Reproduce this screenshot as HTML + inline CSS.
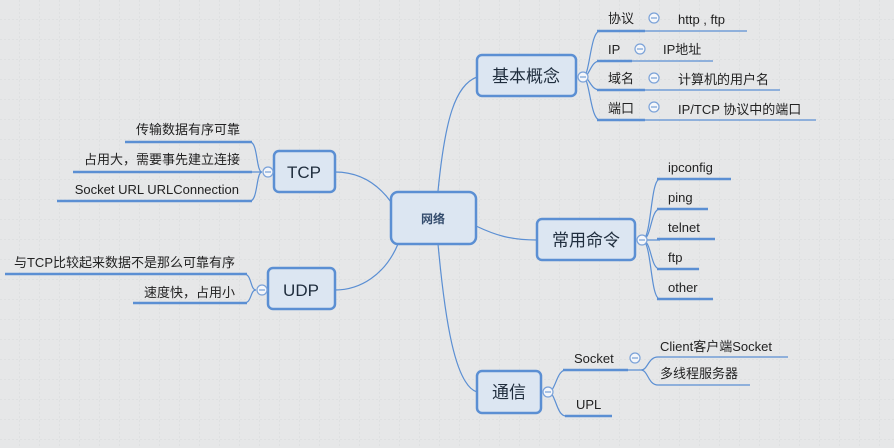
<!DOCTYPE html>
<html><head><meta charset="utf-8"><style>
html,body{margin:0;padding:0;background:#e6e7e8;}
svg{display:block;}
text{font-family:"Liberation Sans","Noto Sans CJK SC",sans-serif;fill:#222;}
</style></head><body>
<svg width="894" height="448" viewBox="0 0 894 448" xmlns="http://www.w3.org/2000/svg">
<defs>
<pattern id="g" width="20" height="20" patternUnits="userSpaceOnUse">
<path d="M20 0V20M0 20H20" stroke="#d6d8da" stroke-width="1" fill="none" stroke-dasharray="2,2"/>
</pattern>
</defs>
<rect width="894" height="448" fill="#e6e7e8"/>
<rect width="894" height="448" fill="url(#g)"/>
<g fill="none" stroke="#5b8fd3" stroke-width="1.2">
<!-- center connections -->
<path d="M438 191 C445 120 455 85 477 77"/>
<path d="M438 244 C445 320 455 385 477 392"/>
<path d="M476 226 C495 235 510 240 537 240"/>
<path d="M391 202 C375 180 355 172 335 172"/>
<path d="M398 244 C385 275 360 290 335 290"/>
<!-- 基本概念 brackets -->
<path d="M583 77 C590 77 590 31 600 31 M583 77 C590 77 590 61 600 61 M583 77 C590 77 590 90 600 90 M583 77 C590 77 590 120 600 120"/>
<path d="M645 31H747 M632 61H713 M645 90H780 M645 120H816"/>
<!-- 常用命令 -->
<path d="M642 240 C652 240 650 179 660 179 M642 240 C652 240 650 209 660 209 M642 240H660 M642 240 C652 240 650 269 660 269 M642 240 C652 240 650 299 660 299"/>
<!-- 通信 -->
<path d="M548 392 C556 392 556 370 566 370 M548 392 C556 392 556 416 566 416"/>
<path d="M628 370H641 C648 370 648 357 658 357H788 M641 370 C648 370 648 385 658 385H750"/>
<!-- TCP -->
<path d="M262 172 C256 172 258 142 250 142 M262 172H250 M262 172 C256 172 258 201 250 201"/>
<!-- UDP -->
<path d="M256 290 C250 290 252 274 244 274 M256 290 C250 290 252 303 244 303"/>
</g>
<g stroke="#5b8fd3" stroke-width="2.5">
<path d="M597 31H645 M597 61H632 M597 90H645 M597 120H645"/>
<path d="M657 179H731 M657 209H708 M657 239H715 M657 269H699 M657 299H713"/>
<path d="M563 370H628 M565 416H612"/>
<path d="M125 142H252 M73 172H252 M57 201H252"/>
<path d="M5 274H247 M133 303H247"/>
</g>
<!-- nodes -->
<g fill="#dce6f2" stroke="#5b8fd3" stroke-width="2.5">
<rect x="391" y="192" width="85" height="52" rx="7"/>
<rect x="477" y="55" width="99" height="41" rx="5"/>
<rect x="537" y="219" width="98" height="41" rx="5"/>
<rect x="477" y="371" width="64" height="42" rx="5"/>
<rect x="274" y="151" width="61" height="41" rx="5"/>
<rect x="268" y="268" width="67" height="41" rx="5"/>
</g>
<!-- collapse circles -->
<g fill="#f4f6fa" stroke="#7ba2d8" stroke-width="1.2">
<circle cx="583" cy="77" r="5"/><circle cx="654" cy="18" r="5"/><circle cx="640" cy="49" r="5"/>
<circle cx="654" cy="78" r="5"/><circle cx="654" cy="107" r="5"/><circle cx="642" cy="240" r="5"/>
<circle cx="548" cy="392" r="5"/><circle cx="635" cy="358" r="5"/><circle cx="268" cy="172" r="5"/>
<circle cx="262" cy="290" r="5"/>
</g>
<g stroke="#7ba2d8" stroke-width="1.2">
<path d="M580 77h6M651 18h6M637 49h6M651 78h6M651 107h6M639 240h6M545 392h6M632 358h6M265 172h6M259 290h6"/>
</g>
<!-- node text -->
<text x="433" y="223" text-anchor="middle" font-size="12" font-weight="bold" style="fill:#344c6d">网络</text>
<text x="526" y="82" text-anchor="middle" font-size="17" style="fill:#1f2d3d">基本概念</text>
<text x="586" y="246" text-anchor="middle" font-size="17" style="fill:#1f2d3d">常用命令</text>
<text x="509" y="398" text-anchor="middle" font-size="17" style="fill:#1f2d3d">通信</text>
<text x="304" y="178" text-anchor="middle" font-size="17" style="fill:#1f2d3d">TCP</text>
<text x="301" y="296" text-anchor="middle" font-size="17" style="fill:#1f2d3d">UDP</text>
<!-- leaves -->
<g font-size="13">
<text x="608" y="23">协议</text><text x="678" y="24">http , ftp</text>
<text x="608" y="54">IP</text><text x="663" y="54">IP地址</text>
<text x="608" y="83">域名</text><text x="678" y="84">计算机的用户名</text>
<text x="608" y="113">端口</text><text x="678" y="114">IP/TCP  协议中的端口</text>
<text x="668" y="172">ipconfig</text>
<text x="668" y="202">ping</text>
<text x="668" y="232">telnet</text>
<text x="668" y="262">ftp</text>
<text x="668" y="292">other</text>
<text x="574" y="363">Socket</text>
<text x="660" y="351">Client客户端Socket</text>
<text x="660" y="378">多线程服务器</text>
<text x="576" y="409">UPL</text>
<text x="240" y="134" text-anchor="end">传输数据有序可靠</text>
<text x="240" y="164" text-anchor="end">占用大，需要事先建立连接</text>
<text x="239" y="194" text-anchor="end">Socket URL URLConnection</text>
<text x="235" y="267" text-anchor="end">与TCP比较起来数据不是那么可靠有序</text>
<text x="235" y="297" text-anchor="end">速度快，占用小</text>
</g>
</svg>
</body></html>
